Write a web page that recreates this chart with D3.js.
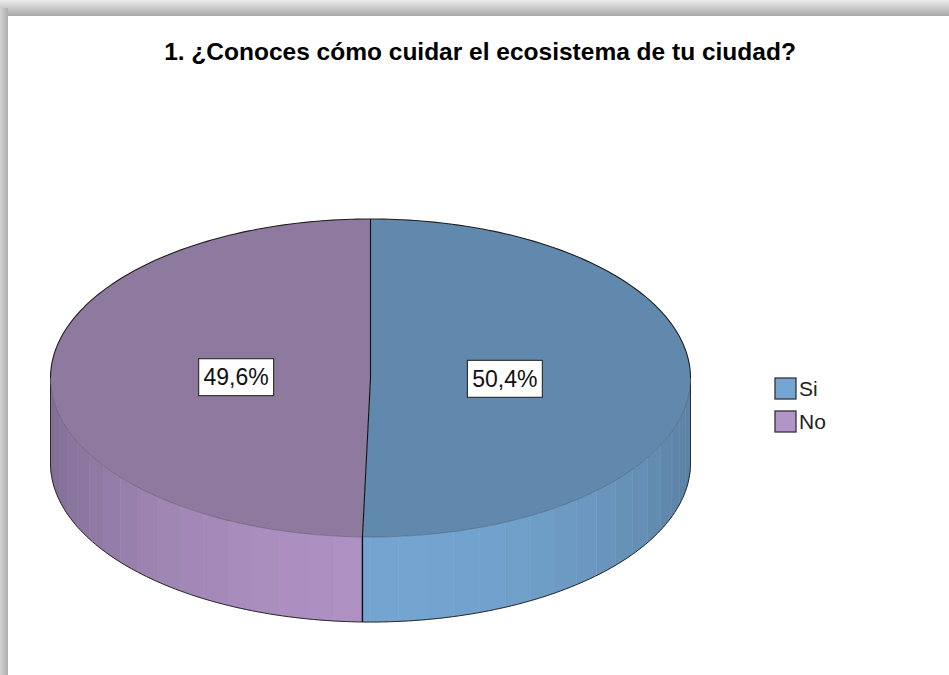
<!DOCTYPE html>
<html>
<head>
<meta charset="utf-8">
<script src="https://cdn.jsdelivr.net/npm/d3@7"></script>
<style>
  body { margin: 0; background: #fff; }
  svg { display: block; font-family: "Liberation Sans", Arial, sans-serif; }
</style>
</head>
<body>
<div id="chart"></div>
<script>
// data
var categories = ["Si", "No"];
var values = [50.4, 49.6];
var labels = ["50,4%", "49,6%"];
var title = "1. ¿Conoces cómo cuidar el ecosistema de tu ciudad?";

// colours
var topColors = ["#6189ad", "#8e7a9e"];
var sideDark = ["#5b80a2", "#7f6d93"];
var sideLight = ["#74a5d1", "#ae91c2"];
var legendColors = ["#74a5d3", "#b195c8"];

// graph specs
var width = 949, height = 675;
var cx = 370.5, cy = 378, rx = 320, ry = 159, depth = 85;

var svg = d3.select("#chart").append("svg").attr("width", width).attr("height", height);

// frame shadow
var defs = svg.append("defs");
var gTop = defs.append("linearGradient").attr("id", "gtop").attr("x1", 0).attr("y1", 0).attr("x2", 0).attr("y2", 1);
gTop.append("stop").attr("offset", "0%").attr("stop-color", "#ececec");
gTop.append("stop").attr("offset", "100%").attr("stop-color", "#a9a9a9");
var gLeft = defs.append("linearGradient").attr("id", "gleft").attr("x1", 0).attr("y1", 0).attr("x2", 1).attr("y2", 0);
gLeft.append("stop").attr("offset", "0%").attr("stop-color", "#d2d2d2");
gLeft.append("stop").attr("offset", "100%").attr("stop-color", "#adadad");
svg.append("rect").attr("x", 0).attr("y", 0).attr("width", width).attr("height", 16).attr("fill", "url(#gtop)");
svg.append("rect").attr("x", 0).attr("y", 8).attr("width", 8).attr("height", height).attr("fill", "url(#gleft)");

// title
svg.append("text")
    .attr("x", 480).attr("y", 60)
    .attr("text-anchor", "middle")
    .style("font-size", "24.5px").style("font-weight", "bold")
    .text(title);

// pie layout, angle 0 at 12 o'clock, clockwise
var pie = d3.pie().sort(null).value(function(d) { return d; });
var arcs = pie(values);

function px(a) { return cx + rx * Math.sin(a); }
function py(a, dy) { return cy - ry * Math.cos(a) + (dy || 0); }

function arcPoints(a0, a1, dy) {
    var n = Math.max(2, Math.ceil(Math.abs(a1 - a0) / 0.02));
    return d3.range(n + 1).map(function(i) {
        var a = a0 + (a1 - a0) * i / n;
        return [px(a), py(a, dy)];
    });
}

var line = d3.line();

// side strips (front half only)
var step = Math.PI / 36;
var sides = svg.append("g");
arcs.forEach(function(d, i) {
    var s = Math.max(d.startAngle, Math.PI / 2);
    var e = Math.min(d.endAngle, 3 * Math.PI / 2);
    if (s >= e) return;
    var shade = d3.scaleLinear().domain([0, 1]).range([sideDark[i], sideLight[i]]);
    for (var a = s; a < e; a += step) {
        var b = Math.min(a + step, e);
        var m = (a + b) / 2;
        var t = Math.pow(Math.max(0, -Math.cos(m)), 1.5);
        var pts = arcPoints(a, b, 0).concat(arcPoints(b, a, depth));
        var c = shade(t);
        sides.append("path").attr("d", line(pts) + "Z")
            .attr("fill", c).attr("stroke", c).attr("stroke-width", 0.6);
    }
});

// side outline
sides.append("path")
    .attr("d", line(arcPoints(Math.PI / 2, 3 * Math.PI / 2, depth)))
    .attr("fill", "none").attr("stroke", "#2a2a2a").attr("stroke-width", 1);
sides.append("line").attr("x1", cx - rx).attr("y1", cy).attr("x2", cx - rx).attr("y2", cy + depth)
    .attr("stroke", "#2a2a2a").attr("stroke-width", 1);
sides.append("line").attr("x1", cx + rx).attr("y1", cy).attr("x2", cx + rx).attr("y2", cy + depth)
    .attr("stroke", "#2a2a2a").attr("stroke-width", 1);

// front split edges on the side
arcs.forEach(function(d) {
    [d.startAngle, d.endAngle].forEach(function(a) {
        if (Math.cos(a) < -0.01) {
            sides.append("line")
                .attr("x1", px(a)).attr("y1", py(a)).attr("x2", px(a)).attr("y2", py(a, depth))
                .attr("stroke", "#111").attr("stroke-width", 1.2);
        }
    });
});

// top face
var topG = svg.append("g");
arcs.forEach(function(d, i) {
    var pts = [[cx, cy]].concat(arcPoints(d.startAngle, d.endAngle, 0));
    topG.append("path").attr("d", line(pts) + "Z").attr("fill", topColors[i]);
});
// back rim dark, front rim soft
topG.append("path")
    .attr("d", line(arcPoints(-Math.PI / 2, Math.PI / 2, 0)))
    .attr("fill", "none").attr("stroke", "#1e1e1e").attr("stroke-width", 1.1);
topG.append("path")
    .attr("d", line(arcPoints(Math.PI / 2, 3 * Math.PI / 2, 0)))
    .attr("fill", "none").attr("stroke", "#3a3a4a").attr("stroke-opacity", 0.35).attr("stroke-width", 1);
// radial split lines
arcs.forEach(function(d) {
    topG.append("line")
        .attr("x1", cx).attr("y1", cy).attr("x2", px(d.startAngle)).attr("y2", py(d.startAngle))
        .attr("stroke", "#111").attr("stroke-width", 1.1);
});

// labels
var labelG = svg.append("g");
arcs.forEach(function(d, i) {
    var m = (d.startAngle + d.endAngle) / 2;
    var lx = cx + 0.42 * rx * Math.sin(m);
    var ly = cy - 0.42 * ry * Math.cos(m);
    labelG.append("rect")
        .attr("x", lx - 37.5).attr("y", ly - 18.5)
        .attr("width", 75).attr("height", 37)
        .attr("fill", "#fff").attr("stroke", "#333").attr("stroke-width", 1.2);
    labelG.append("text")
        .attr("x", lx).attr("y", ly + 8)
        .attr("text-anchor", "middle")
        .style("font-size", "23px").attr("fill", "#111")
        .text(labels[i]);
});

// legend
var legend = svg.append("g").attr("transform", "translate(775,378)");
categories.forEach(function(c, i) {
    legend.append("rect")
        .attr("x", 0).attr("y", i * 33)
        .attr("width", 21).attr("height", 21)
        .attr("fill", legendColors[i]).attr("stroke", "#333").attr("stroke-width", 1.3);
    legend.append("text")
        .attr("x", 24).attr("y", i * 33 + 18)
        .style("font-size", "21px").attr("fill", "#222")
        .text(c);
});
</script>
</body>
</html>
